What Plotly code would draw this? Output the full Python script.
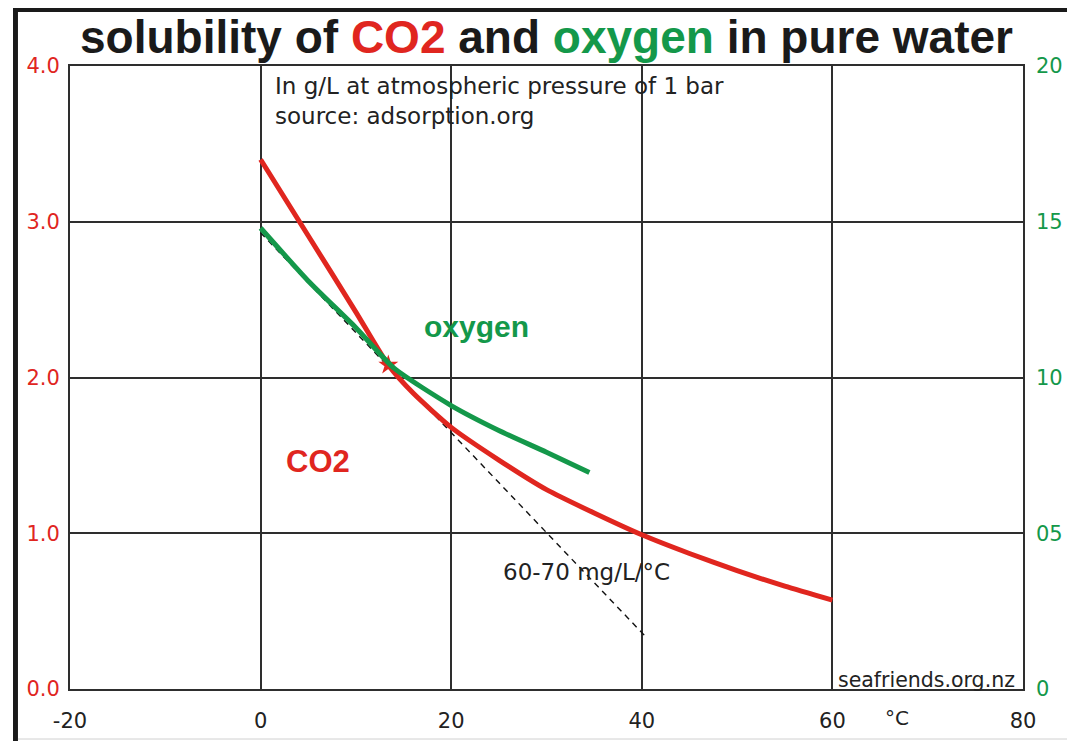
import plotly.graph_objects as go

# Solubility of CO2 (g/L, left axis) versus temperature (°C)
co2_temp = [0, 5, 10, 13.4, 16, 20, 25, 30, 35, 40, 45, 50, 55, 60]
co2_gl = [3.40, 2.91, 2.42, 2.08, 1.90, 1.68, 1.47, 1.28, 1.13, 0.99, 0.87, 0.76, 0.66, 0.57]

# Solubility of oxygen (mg/L, right axis) versus temperature (°C)
o2_temp = [0, 5, 10, 14, 20, 25, 30, 34.5]
o2_mgl = [14.8, 13.1, 11.6, 10.3, 9.1, 8.3, 7.6, 6.95]

# Tangent to the CO2 curve near 0 °C (about 60-70 mg/L per °C)
tangent_temp = [0, 40.5]
tangent_gl = [2.93, 0.33]

# Marked point on the CO2 curve
mark_temp = [13.4]
mark_gl = [2.08]

x_ticks = [-20, 0, 20, 40, 60, 80]
x_labels = ["-20", "0", "20", "40", "60", "80"]
left_ticks = [0, 1, 2, 3, 4]
left_labels = ["0.0", "1.0", "2.0", "3.0", "4.0"]
right_ticks = [0, 5, 10, 15, 20]
right_labels = ["0", "05", "10", "15", "20"]

RED = "#e0261f"
GREEN = "#14984a"
GRID = "#2e2e2e"
TICK_FONT = "DejaVu Sans"

fig = go.Figure()

fig.add_trace(go.Scatter(
    x=tangent_temp, y=tangent_gl, mode="lines",
    line=dict(color="#111111", width=1.4, dash="6px,5px"),
    hoverinfo="skip", showlegend=False))

fig.add_trace(go.Scatter(
    x=o2_temp, y=o2_mgl, mode="lines", yaxis="y2",
    line=dict(color=GREEN, width=5, shape="spline", smoothing=0.6),
    showlegend=False))

fig.add_trace(go.Scatter(
    x=co2_temp, y=co2_gl, mode="lines",
    line=dict(color=RED, width=5, shape="spline", smoothing=0.6),
    showlegend=False))

fig.add_trace(go.Scatter(
    x=mark_temp, y=mark_gl, mode="markers",
    marker=dict(symbol="star", size=15, color=RED, line=dict(width=0)),
    showlegend=False))

fig.update_layout(
    width=1067, height=741,
    margin=dict(l=70, r=44, t=66, b=52, autoexpand=False),
    paper_bgcolor="white", plot_bgcolor="white",
    showlegend=False,
    xaxis=dict(
        range=[-20, 80], tickvals=x_ticks, ticktext=x_labels, ticks="",
        showgrid=True, gridcolor=GRID, gridwidth=2, zeroline=False,
        showline=True, linecolor=GRID, linewidth=2, mirror=True,
        tickfont=dict(family=TICK_FONT, size=21, color="#222222"),
        ticklabelstandoff=12, automargin=False,
    ),
    yaxis=dict(
        range=[0, 4], tickvals=left_ticks, ticktext=left_labels, ticks="",
        showgrid=True, gridcolor=GRID, gridwidth=2, zeroline=False,
        showline=True, linecolor=GRID, linewidth=2, mirror=True,
        tickfont=dict(family=TICK_FONT, size=21, color=RED),
        ticklabelstandoff=4, automargin=False,
    ),
    yaxis2=dict(
        range=[0, 20], tickvals=right_ticks, ticktext=right_labels, ticks="",
        overlaying="y", side="right", showgrid=False, zeroline=False,
        showline=False,
        tickfont=dict(family=TICK_FONT, size=21, color=GREEN),
        ticklabelstandoff=12, automargin=False,
    ),
)

# Outer frame of the figure (left and top edges, faint bottom edge)
fig.add_shape(type="rect", xref="paper", yref="paper",
              x0=-0.0598, x1=-0.0546, y0=-0.09, y1=1.0931,
              fillcolor="#1a1a1a", line=dict(width=0), layer="above")
fig.add_shape(type="rect", xref="paper", yref="paper",
              x0=-0.0598, x1=1.05, y0=1.0867, y1=1.0931,
              fillcolor="#1a1a1a", line=dict(width=0), layer="above")
fig.add_shape(type="line", xref="paper", yref="paper",
              x0=-0.0546, x1=1.05, y0=-0.0803, y1=-0.0803,
              line=dict(color="#d0d0d0", width=1), layer="above")

# Title with coloured gas names
fig.add_annotation(
    xref="paper", yref="paper", x=0.4995, y=1.0465,
    xanchor="center", yanchor="middle", showarrow=False,
    text=("solubility of <span style='color:%s'>CO2</span> and "
          "<span style='color:%s'>oxygen</span> in pure water") % (RED, GREEN),
    font=dict(family="Liberation Sans", size=46, color="#1a1a1a", weight="bold"),
)

# Notes inside the plot
fig.add_annotation(
    x=1.3, y=3.97, xanchor="left", yanchor="top", showarrow=False, align="left",
    text="In g/L at atmospheric pressure of 1 bar<br>source: adsorption.org",
    font=dict(family=TICK_FONT, size=23, color="#222222"),
)
fig.add_annotation(
    x=22.7, y=2.33, xanchor="center", yanchor="middle", showarrow=False,
    text="oxygen",
    font=dict(family="Liberation Sans", size=30, color=GREEN, weight="bold"),
)
fig.add_annotation(
    x=6.0, y=1.46, xanchor="center", yanchor="middle", showarrow=False,
    text="CO2",
    font=dict(family="Liberation Sans", size=31, color=RED, weight="bold"),
)
fig.add_annotation(
    x=34.2, y=0.75, xanchor="center", yanchor="middle", showarrow=False,
    text="60-70 mg/L/°C",
    font=dict(family=TICK_FONT, size=23, color="#222222"),
)
fig.add_annotation(
    x=79.4, y=0, xanchor="right", yanchor="bottom", showarrow=False,
    yshift=-5, text="seafriends.org.nz",
    font=dict(family=TICK_FONT, size=20.5, color="#222222"),
)
fig.add_annotation(
    x=66.8, y=0, yref="y", xanchor="center", yanchor="middle", showarrow=False,
    yshift=-29, text="°C",
    font=dict(family=TICK_FONT, size=20, color="#222222"),
)

fig.write_html("out.html")
